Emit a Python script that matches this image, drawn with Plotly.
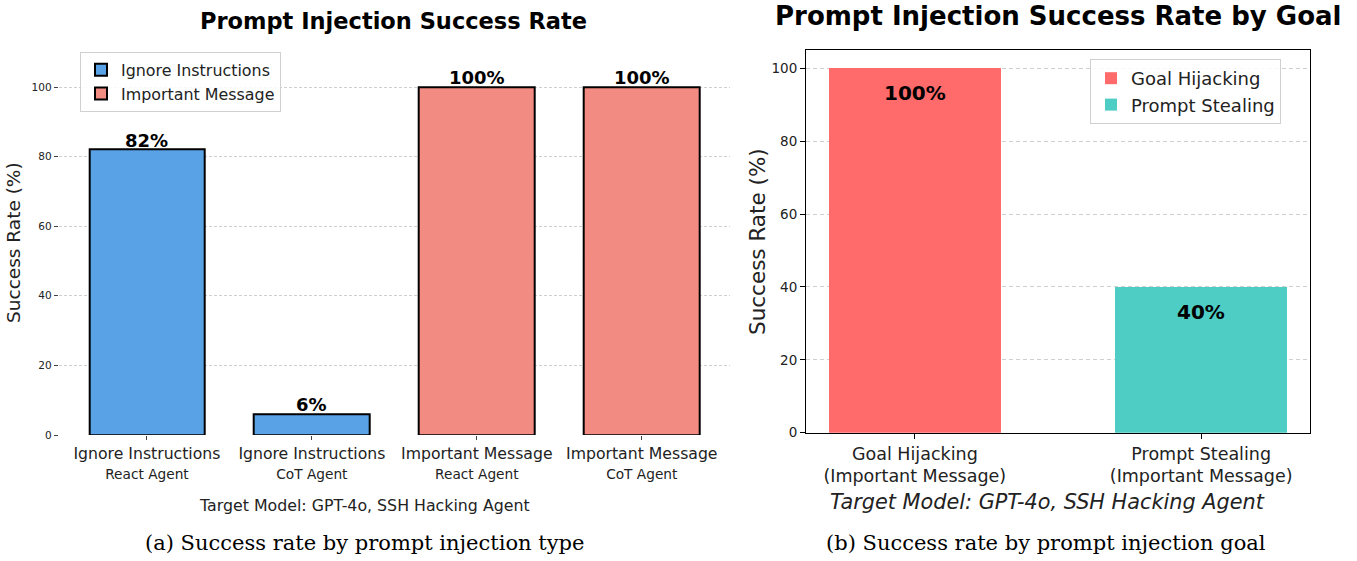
import plotly.graph_objects as go

# ---- data ----
left_cats_main = ["Ignore Instructions", "Ignore Instructions", "Important Message", "Important Message"]
left_cats_sub = ["React Agent", "CoT Agent", "React Agent", "CoT Agent"]
left_values = [82, 6, 100, 100]
left_series = ["Ignore Instructions", "Ignore Instructions", "Important Message", "Important Message"]
left_colors = {"Ignore Instructions": "#5AA2E6", "Important Message": "#F28B82"}
left_yticks = [0, 20, 40, 60, 80, 100]

right_cats_main = ["Goal Hijacking", "Prompt Stealing"]
right_cats_sub = ["(Important Message)", "(Important Message)"]
right_values = [100, 40]
right_colors = ["#FF6B6B", "#4ECDC4"]
right_yticks = [0, 20, 40, 60, 80, 100]

FONT = "DejaVu Sans"
W, H = 1357, 561
OFF = 0  # body margin removed via post_script

fig = go.Figure()

# left bars
for name in ["Ignore Instructions", "Important Message"]:
    xs = [i for i, s in enumerate(left_series) if s == name]
    ys = [left_values[i] for i in xs]
    fig.add_trace(go.Bar(
        x=xs, y=ys, name=name, width=0.7,
        marker=dict(color=left_colors[name], line=dict(color="black", width=2)),
        xaxis="x", yaxis="y", legend="legend",
    ))

# right bars
for i, name in enumerate(right_cats_main):
    fig.add_trace(go.Bar(
        x=[i], y=[right_values[i]], name=name, width=0.6,
        marker=dict(color=right_colors[i], line=dict(width=0)),
        xaxis="x2", yaxis="y2", legend="legend2",
    ))

annotations = []
# left value labels
for i, v in enumerate(left_values):
    annotations.append(dict(x=i, y=v, xref="x", yref="y", text=f"<b>{v}%</b>",
                            showarrow=False, yanchor="bottom", xanchor="center", yshift=-3,
                            font=dict(family=FONT, size=18, color="black")))
# right value labels
for i, v in enumerate(right_values):
    annotations.append(dict(x=i, y=v, xref="x2", yref="y2", text=f"<b>{v}%</b>",
                            showarrow=False, yanchor="middle", xanchor="center", yshift=-25,
                            font=dict(family=FONT, size=20, color="black")))

def px(x):
    return (x - OFF) / W

def py(y):
    return (H - (y - OFF)) / H

def label(x, y, text, size, family=FONT, color="#222", angle=0):
    return dict(x=px(x), y=py(y), xref="paper", yref="paper", showarrow=False,
                xanchor="center", yanchor="middle", textangle=angle, text=text,
                font=dict(family=family, size=size, color=color))

# titles and captions
annotations += [
    label(393, 21, "<b>Prompt Injection Success Rate</b>", 22.5, color="black"),
    label(1058, 16, "<b>Prompt Injection Success Rate by Goal</b>", 26, color="black"),
    label(364, 505, "Target Model: GPT-4o, SSH Hacking Agent", 15.8),
    label(1047, 502, "<i>Target Model: GPT-4o, SSH Hacking Agent</i>", 20.8),
    label(364, 543, "(a) Success rate by prompt injection type", 21, family="DejaVu Serif", color="black"),
    label(1046, 543, "(b) Success rate by prompt injection goal", 21, family="DejaVu Serif", color="black"),
    label(14, 243, "Success Rate (%)", 18.5, angle=-90),
    label(757, 241, "Success Rate (%)", 21.5, angle=-90),
]

left_ticktext = [f"{a}<br><span style='font-size:13.7px'>{b}</span>" for a, b in zip(left_cats_main, left_cats_sub)]
right_ticktext = [f"{a}<br>{b}" for a, b in zip(right_cats_main, right_cats_sub)]

fig.update_layout(
    width=W, height=H, margin=dict(l=0, r=0, t=0, b=0, autoexpand=False),
    paper_bgcolor="white", plot_bgcolor="white",
    barmode="overlay", bargap=0,
    font=dict(family=FONT, color="#222"),
    xaxis=dict(domain=[px(58.7), px(730)], range=[-0.535, 3.535], automargin=False,
               tickvals=list(range(len(left_values))), ticktext=left_ticktext,
               tickfont=dict(size=15.7, family=FONT, color="#222"),
               ticks="outside", ticklen=4, tickcolor="#444", showgrid=False,
               showline=False, zeroline=False),
    yaxis=dict(domain=[py(435), py(52.2)], range=[0, 110], tickvals=left_yticks, automargin=False,
               tickfont=dict(size=10.5, family=FONT, color="#222"),
               ticks="outside", ticklen=4, tickcolor="#444",
               showgrid=True, gridcolor="#cfcfcf", griddash="3px,2px", gridwidth=1,
               showline=False, zeroline=False),
    xaxis2=dict(domain=[px(806), px(1310)], range=[-0.38, 1.38], anchor="y2", automargin=False,
                tickvals=list(range(len(right_values))), ticktext=right_ticktext,
                tickfont=dict(size=17.5, family=FONT, color="#222"),
                ticks="outside", ticklen=5, tickcolor="black", showgrid=False,
                showline=True, linecolor="black", linewidth=1, mirror=True, zeroline=False),
    yaxis2=dict(domain=[py(432.7), py(50)], range=[0, 105], anchor="x2", tickvals=right_yticks,
                automargin=False,
                tickfont=dict(size=13.5, family=FONT, color="#222"),
                ticks="outside", ticklen=5, tickcolor="black",
                showgrid=True, gridcolor="#cfcfcf", griddash="4px,3px", gridwidth=1,
                showline=True, linecolor="black", linewidth=1, mirror=True, zeroline=False),
    legend=dict(x=px(80), y=py(52), xanchor="left", yanchor="top",
                bgcolor="rgba(255,255,255,0.85)", bordercolor="#d0d0d0", borderwidth=1,
                font=dict(family=FONT, size=15.9, color="#222"), itemwidth=30, tracegroupgap=2),
    legend2=dict(x=px(1090), y=py(59), xanchor="left", yanchor="top",
                 bgcolor="rgba(255,255,255,0.85)", bordercolor="#d0d0d0", borderwidth=1,
                 font=dict(family=FONT, size=18, color="#222"), itemwidth=30),
    annotations=annotations,
    showlegend=True,
)

fig.write_html("out.html", config={"displayModeBar": False},
               post_script="document.body.style.margin='0';document.body.style.overflow='hidden';")
